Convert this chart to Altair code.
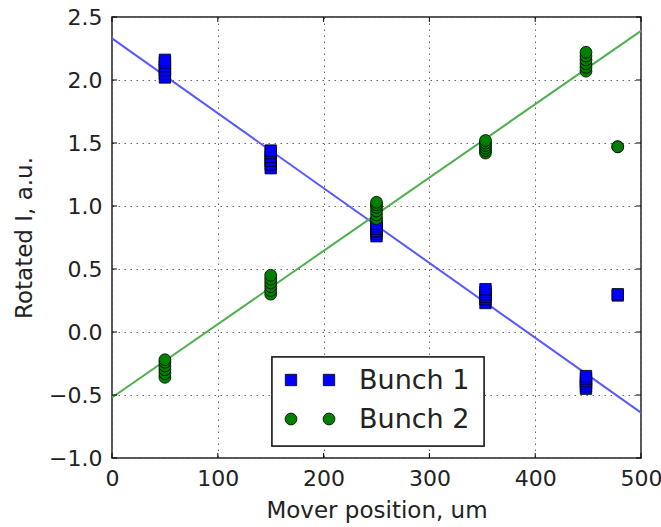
import altair as alt
import pandas as pd

# Mover positions (um) of each measurement cluster
positions = [50, 150, 250, 353, 448, 478]

# Rotated I readings (a.u.) per position, several shots each
bunch1_values = [
    [2.02, 2.05, 2.08, 2.11, 2.14, 2.16],
    [1.30, 1.33, 1.36, 1.39, 1.42, 1.44],
    [0.76, 0.78, 0.80, 0.82, 0.84, 0.86],
    [0.23, 0.26, 0.28, 0.30, 0.32, 0.34],
    [-0.45, -0.43, -0.41, -0.39, -0.37, -0.35],
    [0.29, 0.30],
]
bunch2_values = [
    [-0.36, -0.33, -0.30, -0.27, -0.24, -0.22],
    [0.30, 0.33, 0.36, 0.39, 0.42, 0.45],
    [0.90, 0.93, 0.96, 0.99, 1.01, 1.03],
    [1.42, 1.44, 1.46, 1.48, 1.50, 1.52],
    [2.07, 2.10, 2.13, 2.16, 2.19, 2.22],
    [1.47, 1.47],
]

# Straight-line fits evaluated at the axis ends
fit_x = [0, 500]
bunch1_fit = [2.33, -0.64]
bunch2_fit = [-0.52, 2.39]

legend_labels = ["Bunch 1", "Bunch 2"]
x_ticks = [0, 100, 200, 300, 400, 500]
y_ticks = [-1.0, -0.5, 0.0, 0.5, 1.0, 1.5, 2.0, 2.5]

BLUE = "#0000ff"
GREEN = "#008000"
FONT = "DejaVu Sans"
W, H = 529, 441
SQ_SIZE, CIRC_SIZE = 130, 140


def points_frame(values):
    rows = []
    for pos, vals in zip(positions, values):
        for v in vals:
            rows.append({"x": pos, "y": v})
    return pd.DataFrame(rows)


b1 = points_frame(bunch1_values)
b2 = points_frame(bunch2_values)
fits = pd.DataFrame({"x": fit_x, "b1": bunch1_fit, "b2": bunch2_fit})

xscale = alt.Scale(domain=[0, 500], nice=False, zero=False)
yscale = alt.Scale(domain=[-1.0, 2.5], nice=False, zero=False)

xaxis = alt.Axis(
    values=x_ticks, title="Mover position, um", grid=True, gridColor="#666",
    gridDash=[1.5, 4.5], gridWidth=1, domain=False, ticks=False, labelFlush=False,
    labelFont=FONT, labelFontSize=22, labelColor="#222", labelPadding=10,
    titleFont=FONT, titleFontSize=23, titleFontWeight="normal", titleColor="#222",
    titlePadding=10,
)
yaxis = alt.Axis(
    values=y_ticks, format=".1f", title="Rotated I, a.u.", grid=True, gridColor="#666",
    gridDash=[1.5, 4.5], gridWidth=1, domain=False, ticks=False, labelFlush=False,
    labelFont=FONT, labelFontSize=22, labelColor="#222", labelPadding=10,
    titleFont=FONT, titleFontSize=23, titleFontWeight="normal", titleColor="#222",
    titlePadding=12,
)

base_x = alt.X("x:Q", scale=xscale, axis=xaxis)

line1 = alt.Chart(fits).mark_line(color="#5858ff", strokeWidth=2).encode(
    x=base_x, y=alt.Y("b1:Q", scale=yscale, axis=yaxis)
)
line2 = alt.Chart(fits).mark_line(color="#4fae4f", strokeWidth=2).encode(
    x=alt.X("x:Q", scale=xscale), y=alt.Y("b2:Q", scale=yscale)
)
pts1 = alt.Chart(b1).mark_square(
    size=SQ_SIZE, color=BLUE, stroke="#000", strokeWidth=0.8, opacity=1
).encode(x=alt.X("x:Q", scale=xscale), y=alt.Y("y:Q", scale=yscale))
pts2 = alt.Chart(b2).mark_circle(
    size=CIRC_SIZE, color=GREEN, stroke="#000", strokeWidth=0.8, opacity=1
).encode(x=alt.X("x:Q", scale=xscale), y=alt.Y("y:Q", scale=yscale))

# Inward tick marks on all four sides
xt = pd.DataFrame({"x": x_ticks})
yt = pd.DataFrame({"y": y_ticks})
tick_style = dict(color="#000", strokeWidth=1)
xtick_bottom = alt.Chart(xt).mark_rule(**tick_style).encode(
    x=alt.X("x:Q", scale=xscale), y=alt.value(H), y2=alt.value(H - 5)
)
xtick_top = alt.Chart(xt).mark_rule(**tick_style).encode(
    x=alt.X("x:Q", scale=xscale), y=alt.value(0), y2=alt.value(5)
)
ytick_left = alt.Chart(yt).mark_rule(**tick_style).encode(
    y=alt.Y("y:Q", scale=yscale), x=alt.value(0), x2=alt.value(5)
)
ytick_right = alt.Chart(yt).mark_rule(**tick_style).encode(
    y=alt.Y("y:Q", scale=yscale), x=alt.value(W), x2=alt.value(W - 5)
)

# Legend drawn in the lower middle of the axes, two markers per entry
legend_df = pd.DataFrame({"label": legend_labels})
legend_box = alt.Chart(legend_df).mark_rect(
    fill="white", stroke="#222", strokeWidth=1.5
).encode(x=alt.value(160), x2=alt.value(372), y=alt.value(340), y2=alt.value(429))

legend_layers = [legend_box]
row_y = [363, 402]
for i, (label, color, mark) in enumerate(
    zip(legend_labels, [BLUE, GREEN], ["square", "circle"])
):
    row = pd.DataFrame({"label": [label]})
    for sx in (179, 217):
        if mark == "square":
            sym = alt.Chart(row).mark_square(
                size=SQ_SIZE, color=color, stroke="#000", strokeWidth=0.8, opacity=1
            )
        else:
            sym = alt.Chart(row).mark_circle(
                size=CIRC_SIZE, color=color, stroke="#000", strokeWidth=0.8, opacity=1
            )
        legend_layers.append(sym.encode(x=alt.value(sx), y=alt.value(row_y[i])))
    legend_layers.append(
        alt.Chart(row).mark_text(
            align="left", baseline="middle", font=FONT, fontSize=27, color="#222"
        ).encode(x=alt.value(247), y=alt.value(row_y[i] + 1), text="label:N")
    )

chart = alt.layer(
    line1, line2, pts1, pts2,
    xtick_bottom, xtick_top, ytick_left, ytick_right,
    *legend_layers,
).properties(
    width=W, height=H,
    autosize=alt.AutoSizeParams(type="none"),
    padding={"left": 112, "top": 17, "right": 20, "bottom": 69},
    background="white",
).configure_view(stroke="#222", strokeWidth=1.5)

chart.save("out.html", embed_options={"renderer": "svg", "actions": False})
